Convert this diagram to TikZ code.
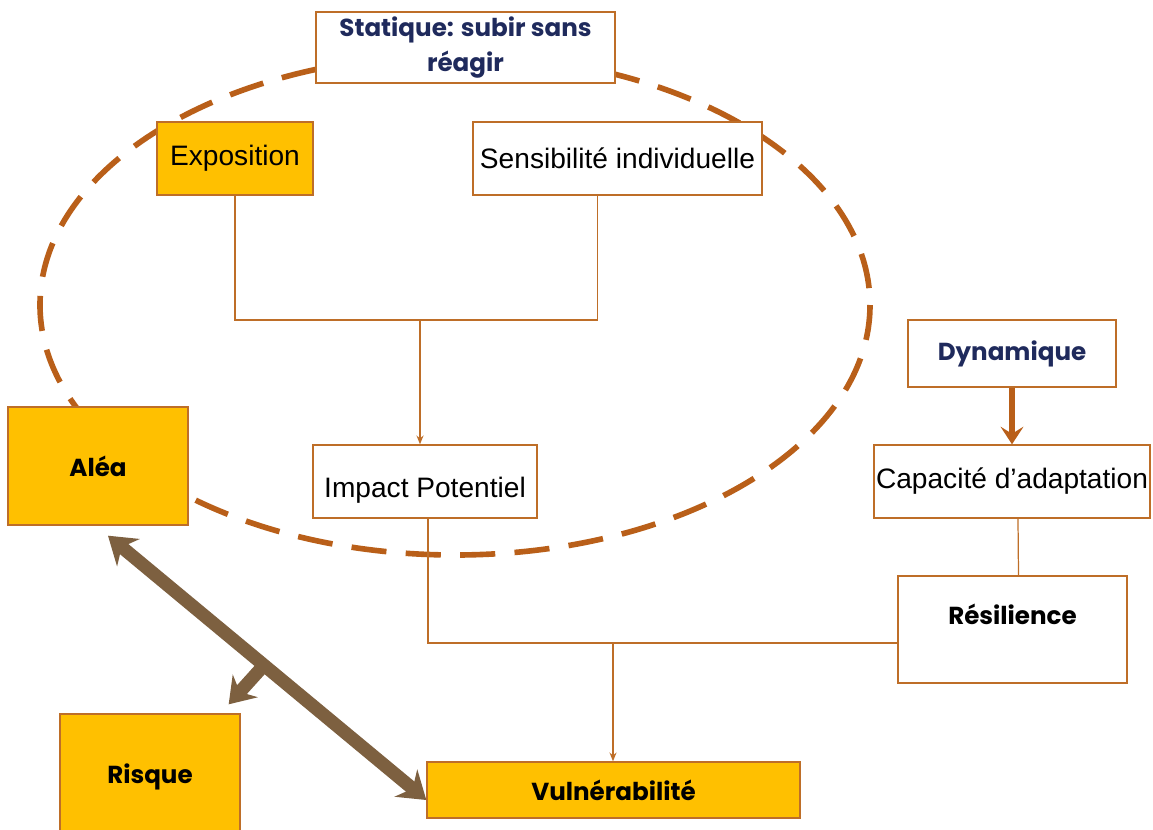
\documentclass[tikz,border=0pt]{standalone}
\usepackage{fontspec}
\setmainfont{Liberation Sans}
\newfontfamily\titlefont{Poppins}
\usepackage{tikz}
\usetikzlibrary{positioning, arrows.meta}

\definecolor{boxorange}{RGB}{255,192,0}
\definecolor{boxline}{RGB}{190,110,40}
\definecolor{dashline}{RGB}{185,95,25}
\definecolor{bigarrow}{RGB}{125,96,64}
\definecolor{navy}{RGB}{31,42,92}

\begin{document}
\begin{tikzpicture}[
x=0.02cm, y=-0.02cm,
mybox/.style={rectangle,
  draw=boxline,
  line width=0.8pt,
  fill=white,
  align=center,
  inner sep=0pt,
  font=\fontsize{16}{19}\selectfont
},
myfilled/.style={mybox, fill=boxorange},
mytitle/.style={font=\titlefont\bfseries\fontsize{14}{20}\selectfont},
myline/.style={draw=boxline, line width=0.7pt},
>={Stealth[length=5pt,width=4pt]}
]
\useasboundingbox (0,0) rectangle (1153,829);

% dashed ellipse behind the static part
\draw[dashline, line width=3.2pt, dash pattern=on 20pt off 11pt] (455,305) ellipse [x radius=415, y radius=250];

\node[mybox, mytitle, text=navy, minimum width=5.98cm, minimum height=1.42cm] (statique)
    at (465.5,47.5) {Statique: subir sans\\r\'eagir};
\node[myfilled, minimum width=3.12cm, minimum height=1.46cm] (expo)
    at (235,158.5) {Exposition};
\node[mybox, minimum width=5.78cm, minimum height=1.46cm] (sensi)
    at (617.5,158.5) {Sensibilit\'e individuelle};
\node[mybox, minimum width=4.48cm, minimum height=1.46cm, text height=0.75cm] (impact)
    at (425,481.5) {Impact Potentiel};
\node[myfilled, mytitle, minimum width=3.6cm, minimum height=2.36cm] (alea)
    at (98,466) {Al\'ea};
\node[mybox, mytitle, text=navy, minimum width=4.16cm, minimum height=1.34cm] (dyn)
    at (1012,353.5) {Dynamique};
\node[mybox, minimum width=5.52cm, minimum height=1.46cm] (capa)
    at (1012,481.5) {Capacit\'e d'adaptation};
\node[mybox, mytitle, minimum width=4.58cm, minimum height=2.14cm, text depth=0.62cm] (resil)
    at (1012.5,629.5) {R\'esilience};
\node[myfilled, mytitle, minimum width=7.46cm, minimum height=1.12cm] (vuln)
    at (613.5,790) {Vuln\'erabilit\'e};
\node[myfilled, mytitle, minimum width=3.6cm, minimum height=2.42cm, text height=0.5cm] (risque)
    at (150,774.5) {Risque};

% static part
\coordinate (fork) at (420,320);
\draw[myline] (expo.south) |- (fork);
\draw[myline] ([xshift=-0.4cm]sensi.south) |- (fork);
\draw[myline,->] (fork) -- (impact.north -| fork);

% dynamic part
\draw[dashline, line width=3pt, -{Stealth[length=10pt,width=13pt,inset=4pt]}] (dyn.south) -- (capa.north);
\draw[myline] ([xshift=0.12cm]capa.south) -- ([xshift=0.12cm]resil.north);

% towards vulnerability
\coordinate (join) at (613,643);
\draw[myline] ([xshift=0.06cm]impact.south) |- (join) -- (join -| resil.west);
\draw[myline,->] (join) -- (vuln.north -| join);

% hazard, vulnerability and risk
\draw[bigarrow, line width=7.5pt, {Stealth[length=15pt,width=20pt]}-{Stealth[length=15pt,width=20pt]}]
    ([shift={(10,10)}]alea.south) -- coordinate[pos=0.49] (mid) ([yshift=-0.2cm]vuln.west);
\draw[bigarrow, line width=7.5pt, -{Stealth[length=14pt,width=19pt]}] (mid) -- ([shift={(-12,-9)}]risque.north east);
\end{tikzpicture}
\end{document}
